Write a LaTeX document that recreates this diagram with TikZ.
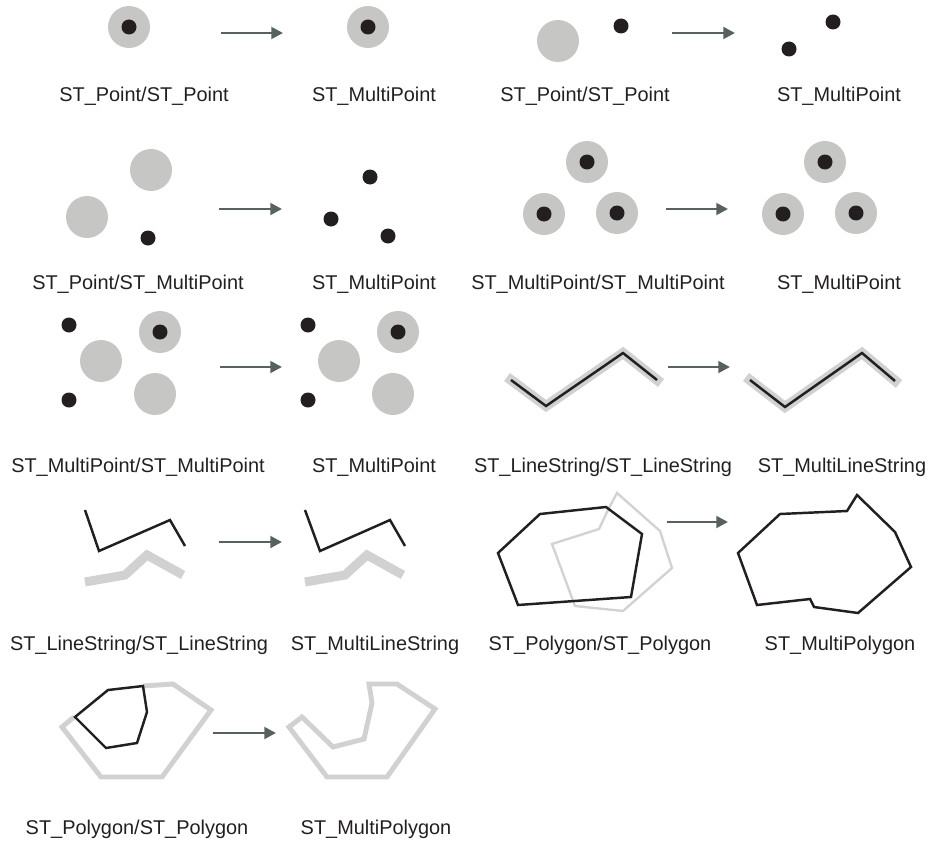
\documentclass[tikz,border=0pt]{standalone}
\usepackage{fontspec}
\setmainfont{Liberation Sans}
\usetikzlibrary{arrows.meta}

\definecolor{diskgray}{HTML}{C6C6C5}
\definecolor{dotblack}{HTML}{231F20}
\definecolor{arrowgray}{HTML}{57625F}
\definecolor{linegray}{HTML}{D2D2D2}

% a gray disk with a black point in its middle
\newcommand{\ringpoint}[2]{%
  \fill[diskgray] (#1,#2) circle (21);
  \fill[dotblack] (#1,#2) circle (7.5);}

\begin{document}
\begin{tikzpicture}[x=0.03cm,y=-0.03cm,
    disk/.style={fill=diskgray},
    dot/.style={fill=dotblack},
    flow/.style={arrowgray,line width=2.3pt,-{Triangle[length=10pt,width=10pt]}},
    typename/.style={font=\fontsize{17}{20}\selectfont,text=dotblack,inner sep=0pt},
    blackline/.style={dotblack,line width=2.1pt,line join=miter},
    grayband/.style={diskgray!80,line width=#1,line join=miter},
    grayband/.default=8.5pt]
    \useasboundingbox (0,0) rectangle (933,843);

    % Point / Point, same point
    \ringpoint{129}{27}
    \ringpoint{368}{27}
    \coordinate (a1s) at (221,33);
    \coordinate (a1e) at (283,33);
    \draw[flow] (a1s) -- (a1e);
    \node[typename] (n1a) at (144,96) {ST\_Point/ST\_Point};
    \node[typename] (n1b) at (374,96) {ST\_MultiPoint};

    % Point / Point, two points
    \fill[disk] (558,41) circle (21);
    \fill[dot] (621,26) circle (7.5);
    \fill[dot] (833,22) circle (7.5);
    \fill[dot] (789,49) circle (7.5);
    \coordinate (a2s) at (672,33);
    \coordinate (a2e) at (735,33);
    \draw[flow] (a2s) -- (a2e);
    \node[typename] (n2a) at (585,96) {ST\_Point/ST\_Point};
    \node[typename] (n2b) at (839,96) {ST\_MultiPoint};

    % Point / MultiPoint
    \fill[disk] (151,170) circle (21);
    \fill[disk] (87,217) circle (21);
    \fill[dot] (148,238) circle (7.5);
    \fill[dot] (370,177) circle (7.5);
    \fill[dot] (331,219) circle (7.5);
    \fill[dot] (388,236) circle (7.5);
    \coordinate (a3s) at (219,209);
    \coordinate (a3e) at (282,209);
    \draw[flow] (a3s) -- (a3e);
    \node[typename] (n3a) at (138,284) {ST\_Point/ST\_MultiPoint};
    \node[typename] (n3b) at (374,284) {ST\_MultiPoint};

    % MultiPoint / MultiPoint, same points
    \ringpoint{587}{162}
    \ringpoint{544}{214}
    \ringpoint{617}{213}
    \ringpoint{825}{162}
    \ringpoint{783}{214}
    \ringpoint{856}{213}
    \coordinate (a4s) at (666,209);
    \coordinate (a4e) at (728,209);
    \draw[flow] (a4s) -- (a4e);
    \node[typename] (n4a) at (598,284) {ST\_MultiPoint/ST\_MultiPoint};
    \node[typename] (n4b) at (839,284) {ST\_MultiPoint};

    % MultiPoint / MultiPoint, some shared
    \fill[dot] (69,325) circle (7.5);
    \fill[dot] (69,400) circle (7.5);
    \fill[disk] (101,361) circle (21);
    \fill[disk] (155,394) circle (21);
    \ringpoint{160}{332}
    \fill[dot] (308,325) circle (7.5);
    \fill[dot] (308,400) circle (7.5);
    \fill[disk] (339,361) circle (21);
    \fill[disk] (393,394) circle (21);
    \ringpoint{398}{332}
    \coordinate (a5s) at (220,367);
    \coordinate (a5e) at (282,367);
    \draw[flow] (a5s) -- (a5e);
    \node[typename] (n5a) at (138,467) {ST\_MultiPoint/ST\_MultiPoint};
    \node[typename] (n5b) at (374,467) {ST\_MultiPoint};

    % LineString / LineString, same line
    \draw[grayband] (507,377) -- (546,406) -- (623,353) -- (661,383);
    \draw[blackline] (511,380) -- (546,406) -- (623,353) -- (657,380);
    \draw[grayband] (746,377) -- (785,407) -- (862,353) -- (899,384);
    \draw[blackline] (750,380) -- (785,407) -- (862,353) -- (895,381);
    \coordinate (a6s) at (668,367);
    \coordinate (a6e) at (730,367);
    \draw[flow] (a6s) -- (a6e);
    \node[typename] (n6a) at (603,467) {ST\_LineString/ST\_LineString};
    \node[typename] (n6b) at (842,467) {ST\_MultiLineString};

    % LineString / LineString, apart
    \draw[blackline] (85,510) -- (99,551) -- (170,520) -- (185,546);
    \draw[grayband=7.7pt] (85,582) -- (125,575) -- (147,555) -- (183,575);
    \draw[blackline] (305,510) -- (320,551) -- (390,520) -- (405,546);
    \draw[grayband=7.7pt] (305,582) -- (345,575) -- (367,555) -- (403,575);
    \coordinate (a7s) at (219,542);
    \coordinate (a7e) at (282,542);
    \draw[flow] (a7s) -- (a7e);
    \node[typename] (n7a) at (139,645) {ST\_LineString/ST\_LineString};
    \node[typename] (n7b) at (375,645) {ST\_MultiLineString};

    % Polygon / Polygon, overlapping
    \draw[linegray,line width=2pt,line join=miter] (617,493) -- (660,531) -- (672,568) -- (623,611)
        -- (575,606) -- (552,544) -- (599,529) -- (609,508) -- cycle;
    \draw[blackline] (540,514) -- (606,507) -- (642,534) -- (631,597) -- (518,605) -- (498,553) -- cycle;
    \draw[blackline] (780,514) -- (847,511) -- (857,495) -- (895,532) -- (911,567) -- (858,613)
        -- (814,607) -- (810,599) -- (757,605) -- (738,553) -- cycle;
    \coordinate (a8s) at (667,522);
    \coordinate (a8e) at (728,522);
    \draw[flow] (a8s) -- (a8e);
    \node[typename] (n8a) at (600,645) {ST\_Polygon/ST\_Polygon};
    \node[typename] (n8b) at (840,645) {ST\_MultiPolygon};

    % Polygon / Polygon, one inside the other
    \draw[grayband=4.2pt] (74,717) -- (62,727) -- (101,777) -- (162,777) -- (211,710) -- (173,684) -- (143,686);
    \draw[blackline] (75,717) -- (108,690) -- (143,686) -- (147,712) -- (137,743) -- (106,748) -- cycle;
    \draw[grayband=4.2pt] (302,717) -- (289,727) -- (327,777) -- (387,777) -- (435,709) -- (397,684)
        -- (369,684) -- (372,703) -- (364,739) -- (333,747) -- cycle;
    \coordinate (a9s) at (213,733);
    \coordinate (a9e) at (276,733);
    \draw[flow] (a9s) -- (a9e);
    \node[typename] (n9a) at (137,829) {ST\_Polygon/ST\_Polygon};
    \node[typename] (n9b) at (376,829) {ST\_MultiPolygon};
\end{tikzpicture}
\end{document}
